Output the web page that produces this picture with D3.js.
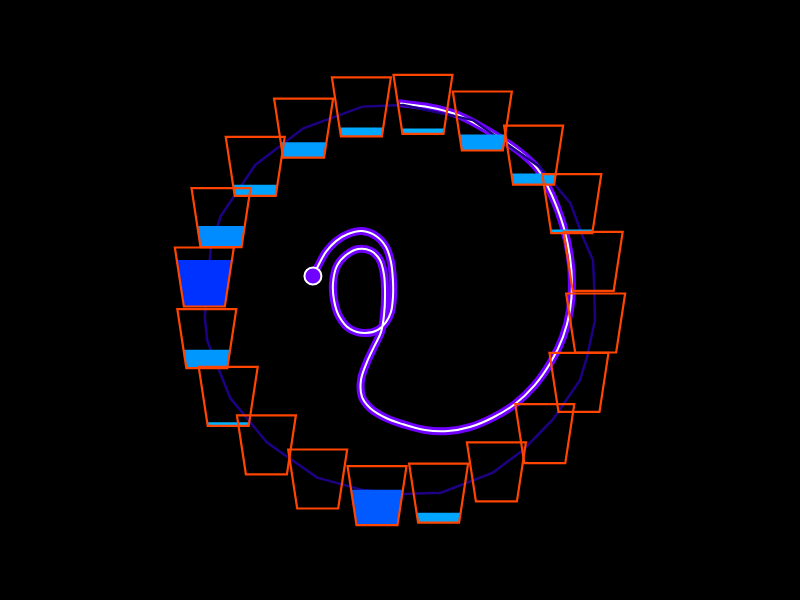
<!DOCTYPE html>
<html><head><meta charset="utf-8">
<script src="https://cdn.jsdelivr.net/npm/d3@7"></script>
<style>html,body{margin:0;background:#000;}svg{display:block;background:#000}</style>
</head><body>
<svg id="chart" width="800" height="600"></svg>
<script>
// ---- data ----
// fill level of each cup, clockwise starting near the top
const cupLevels = [0.09, 0.27, 0.19, 0.06, 0, 0, 0, 0, 0, 0.17, 0.60, 0, 0, 0.06, 0.31, 0.79, 0.36, 0.19, 0.26, 0.15];
const cupStartAngle = 6.7; // degrees, clockwise from 12 o'clock
// outer ring polyline (angle in degrees, radius in ring units where 100 = cup ring)
const ringAngles = [0.9, 22, 46.5, 60.3, 71, 78.3, 84, 93, 96, 107, 114, 128, 140.6, 151.7, 168, 179, 191, 205, 223, 240, 258, 265, 285, 295, 313, 330.6, 349];
const ringRadii  = [99.0, 98.5, 98.0, 99.5, 98.2, 100, 99.0, 99.0, 99.5, 99.2, 100, 98.5, 98.5, 99.5, 100, 98.5, 98.3, 99.5, 99.0, 99.5, 100, 99.5, 99.5, 100.5, 100.5, 100, 100];
// trail (start at the dot, end near the top of the ring), in ring units
const trailX = [-44.2, -41.6, -37.6, -32.5, -26.4, -19.3, -12.2, -7.1, -4.6, -3.6, -3.6, -4.6, -7.1, -11.2, -17.8, -25.4, -31.0, -33.5, -34.0, -32.0, -27.4, -21.3, -14.7, -10.2, -8.1, -7.6, -8.1, -9.6, -12.7, -16.8, -19.8, -19.3, -15.2, -7.1, 1.0, 12.7, 24.4, 35.5, 46.7, 58.4, 68.5, 76.6, 82.7, 86.3, 87.3, 86.3, 83.2, 79.2, 75.1, 69.5, 60.9, 45.7, 30.5, 22.8, 12.7, 0.5];
const trailY = [-12.2, -17.3, -24.4, -29.9, -33.5, -35.0, -32.5, -26.9, -19.3, -10.2, -1.0, 6.1, 11.2, 15.2, 16.8, 14.7, 8.1, 0.0, -8.6, -17.3, -22.8, -25.9, -24.9, -20.3, -12.7, -2.5, 7.6, 16.2, 22.8, 31.5, 40.6, 49.2, 54.8, 59.9, 62.9, 66.0, 66.5, 64.5, 59.9, 52.8, 43.1, 31.5, 18.8, 5.1, -7.6, -21.8, -36.5, -48.2, -57.4, -67.0, -75.1, -85.3, -93.5, -96.0, -98.2, -99.8];

// ---- layout ----
const W = 800, H = 600, cx = 400, cy = 300, R = 197;
const topW = 59, botW = 41, cupH = 59;
const svg = d3.select("#chart");
svg.append("rect").attr("width", W).attr("height", H).attr("fill", "#000");

const x = d3.scaleLinear().domain([-100, 100]).range([cx - R, cx + R]);
const y = d3.scaleLinear().domain([-100, 100]).range([cy - R, cy + R]);
const angle = d3.scaleLinear().domain([0, cupLevels.length]).range([cupStartAngle, cupStartAngle + 360]);
const level = d3.scaleLinear().domain([0, 1]).range([0, cupH]);
const color = d3.scaleLinear().domain([0, 0.3, 0.8]).range(["#00b8ff", "#0099ff", "#0030ff"]).clamp(true);
const rad = d => d * Math.PI / 180;

// trail
const trailPts = trailX.map((v, i) => [x(v), y(trailY[i])]);
const trailLine = d3.line().curve(d3.curveCatmullRom.alpha(0.5));
svg.append("path").attr("d", trailLine(trailPts)).attr("fill", "none")
  .attr("stroke", "#7000ff").attr("stroke-width", 8).attr("stroke-linecap", "round").attr("stroke-linejoin", "round");
svg.append("path").attr("d", trailLine(trailPts)).attr("fill", "none")
  .attr("stroke", "#fff").attr("stroke-width", 2).attr("stroke-linecap", "round");

// ring
const ringPts = ringAngles.map((a, i) => [x(ringRadii[i] * Math.sin(rad(a))), y(-ringRadii[i] * Math.cos(rad(a)))]);
svg.append("path").attr("d", d3.line().curve(d3.curveLinearClosed)(ringPts))
  .attr("fill", "none").attr("stroke", "#1e0084").attr("stroke-width", 2.5);

// dot
svg.append("circle").attr("cx", trailPts[0][0]).attr("cy", trailPts[0][1]).attr("r", 8.5)
  .attr("fill", "#7000ff").attr("stroke", "#fff").attr("stroke-width", 2);

// cups
const cups = cupLevels.map((lv, i) => {
  const a = rad(angle(i));
  return { lv, px: x(100 * Math.sin(a)), py: y(-100 * Math.cos(a)) };
});
const fills = svg.append("g");
const outlines = svg.append("g");
cups.forEach(c => {
  const t = c.py - cupH / 2, b = c.py + cupH / 2;
  if (c.lv > 0) {
    const h = level(c.lv);
    const wTop = botW + (topW - botW) * (h / cupH);
    fills.append("path")
      .attr("d", `M${c.px - wTop / 2},${b - h}L${c.px + wTop / 2},${b - h}L${c.px + botW / 2},${b}L${c.px - botW / 2},${b}Z`)
      .attr("fill", color(c.lv));
  }
  outlines.append("path")
    .attr("d", `M${c.px - topW / 2},${t}L${c.px + topW / 2},${t}L${c.px + botW / 2},${b}L${c.px - botW / 2},${b}Z`)
    .attr("fill", "none").attr("stroke", "#ff4500").attr("stroke-width", 2.2).attr("stroke-linejoin", "miter");
});
</script>
</body></html>
